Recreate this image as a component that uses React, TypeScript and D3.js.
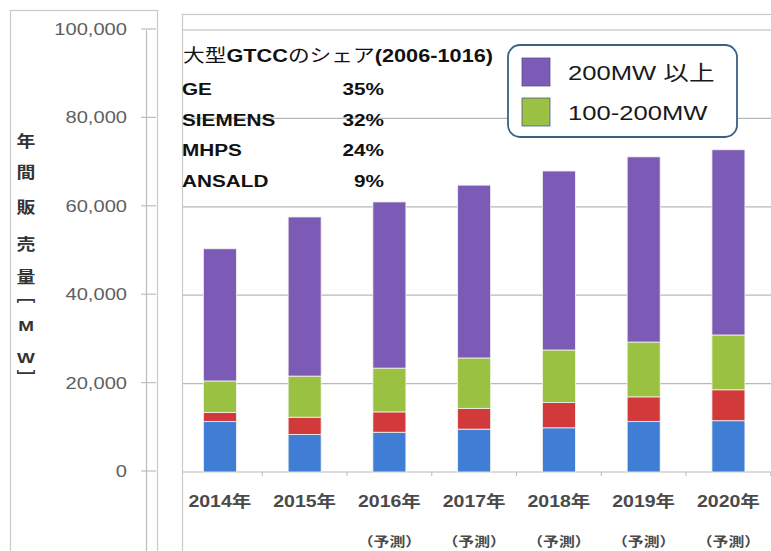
import React from "react";
import * as d3 from "d3";

const years = ["2014年", "2015年", "2016年", "2017年", "2018年", "2019年", "2020年"];
const forecast = [false, false, true, true, true, true, true];
const blue = [11400, 8500, 9000, 9700, 10000, 11400, 11600];
const red = [2100, 3900, 4600, 4700, 5700, 5600, 7000];
const green = [7100, 9300, 9900, 11400, 11900, 12400, 12400];
const purple = [29900, 36000, 37600, 39100, 40500, 41900, 41900];
const seriesKeys = ["blue", "red", "green", "purple"];
const seriesColors = ["#3F7ED4", "#D2393A", "#9BC143", "#7C5BB6"];
const yTicks = [0, 20000, 40000, 60000, 80000, 100000];
const legendItems = [
  { label: "200MW 以上", color: "#7C5BB6" },
  { label: "100-200MW", color: "#9BC143" },
];
const shareTitle = ["大型", "GTCC", "のシェア", "(2006-1016)"];
const shareNames = ["GE", "SIEMENS", "MHPS", "ANSALD"];
const shareValues = ["35%", "32%", "24%", "9%"];
const yTitle = ["年", "間", "販", "売", "量", "﹇", "M", "W", "﹈"];

const SX = 1.22;
const FONT = "'Liberation Sans', Arial, 'Noto Sans CJK JP', sans-serif";

function T(props: any) {
  const { x, y, anchor = "start", size = 16, weight = "normal", fill = "#222", children } = props;
  return (
    <text
      transform={`translate(${x},${y}) scale(${SX},1)`}
      textAnchor={anchor}
      fontSize={size}
      fontWeight={weight}
      fill={fill}
      fontFamily={FONT}
    >
      {children}
    </text>
  );
}

export default function App() {
  const W = 771;
  const H = 551;
  const table = years.map((y, i) => ({
    year: y,
    blue: blue[i],
    red: red[i],
    green: green[i],
    purple: purple[i],
  }));
  const stack = d3.stack<any>().keys(seriesKeys)(table);
  const y = d3.scaleLinear().domain([0, 100000]).range([472, 30]);
  const x = d3.scaleBand().domain(years).range([177.5, 770.8]).padding(0);
  const barW = 33;
  const fmt = d3.format(",");
  const yAxisTitleY = [141, 172, 207, 244, 277, 295, 325, 357, 378];

  return (
    <svg width={W} height={H} style={{ position: "absolute", left: 0, top: 0, background: "#fff" }}>
      <rect x={0} y={0} width={W} height={H} fill="#fff" />
      {/* left panel */}
      <rect x={10.5} y={10.5} width={147} height={560} fill="#fff" stroke="#c9c9c9" strokeWidth={1.2} />
      <line x1={146.5} x2={146.5} y1={y(100000)} y2={H} stroke="#bdbdbd" strokeWidth={1.2} />
      {yTicks.map((t) => (
        <g key={t}>
          <line x1={141} x2={156} y1={y(t) - 1} y2={y(t) - 1} stroke="#bdbdbd" strokeWidth={1.2} />
          <T x={127} y={y(t) + 5} anchor="end" size={16.5} fill="#5f5f5f">
            {fmt(t)}
          </T>
        </g>
      ))}
      {yTitle.map((c, i) => (
        <T key={i} x={26} y={yAxisTitleY[i] + 6} anchor="middle" size={15.5} weight="bold" fill="#333">
          {c}
        </T>
      ))}

      {/* right panel */}
      <rect x={182.5} y={14.5} width={620} height={600} fill="#fff" stroke="#c9c9c9" strokeWidth={1.2} />
      {yTicks.map((t) => (
        <line key={t} x1={183} x2={W} y1={y(t)} y2={y(t)} stroke="#b8b8b8" strokeWidth={1.2} />
      ))}
      {years.map((yr) => (
        <line
          key={yr}
          x1={(x(yr) as number) + x.bandwidth()}
          x2={(x(yr) as number) + x.bandwidth()}
          y1={y(0)}
          y2={y(0) + 4}
          stroke="#b8b8b8"
          strokeWidth={1}
        />
      ))}

      {stack.map((s, si) => (
        <g key={s.key}>
          {s.map((d: any, i: number) => (
            <rect
              key={i}
              x={(x(years[i]) as number) + (x.bandwidth() - barW) / 2}
              y={y(d[1])}
              width={barW}
              height={y(d[0]) - y(d[1])}
              fill={seriesColors[si]}
              stroke="#f4f4ee"
              strokeWidth={0.8}
            />
          ))}
        </g>
      ))}

      {years.map((yr, i) => {
        const cx = (x(yr) as number) + x.bandwidth() / 2;
        return (
          <g key={yr}>
            <T x={cx} y={507} anchor="middle" size={16} weight="bold" fill="#4a4a4a">
              {yr}
            </T>
            {forecast[i] && (
              <T x={cx} y={546} anchor="middle" size={13} weight="bold" fill="#4a4a4a">
                （予測）
              </T>
            )}
          </g>
        );
      })}

      {/* share text */}
      <text
        transform={`translate(183,62) scale(${SX},1)`}
        fontSize={17.8}
        fontFamily={FONT}
        fill="#111"
      >
        <tspan fontWeight="normal">{shareTitle[0]}</tspan>
        <tspan fontWeight="bold">{shareTitle[1]}</tspan>
        <tspan fontWeight="normal">{shareTitle[2]}</tspan>
        <tspan fontWeight="bold">{shareTitle[3]}</tspan>
      </text>
      {shareNames.map((n, i) => (
        <g key={n}>
          <T x={182} y={95 + i * 30.7} size={17} weight="bold" fill="#111">
            {n}
          </T>
          <T x={384} y={95 + i * 30.7} anchor="end" size={17} weight="bold" fill="#111">
            {shareValues[i]}
          </T>
        </g>
      ))}

      {/* legend */}
      <rect x={508} y={45} width={229} height={92} rx={12} ry={12} fill="#fff" stroke="#3d5f82" strokeWidth={1.8} />
      {legendItems.map((d, i) => (
        <g key={d.label}>
          <rect x={522} y={58 + i * 40} width={28} height={28} fill={d.color} stroke="#4a5a8a" strokeWidth={0.8} />
          <T x={568} y={80 + i * 40} size={21} fill="#1a1a1a">
            {d.label}
          </T>
        </g>
      ))}
    </svg>
  );
}
